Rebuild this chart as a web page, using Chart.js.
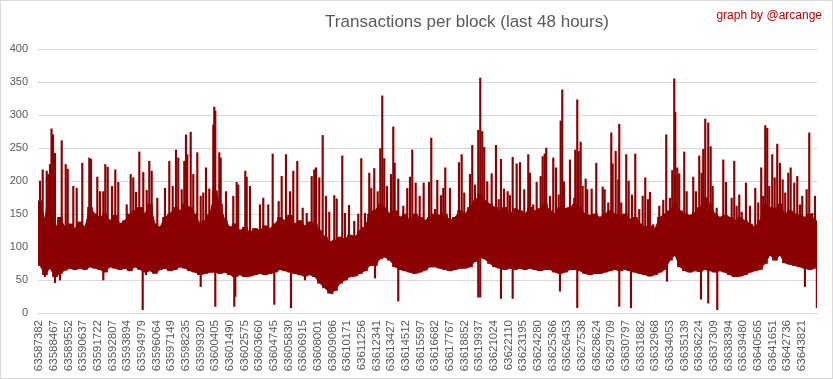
<!DOCTYPE html>
<html>
<head>
<meta charset="utf-8">
<script src="https://cdn.jsdelivr.net/npm/chart.js@4.4.1/dist/chart.umd.min.js"></script>
<style>
html,body{margin:0;padding:0;background:#fff;}
#wrap{position:relative;width:833px;height:379px;overflow:hidden;}
#frame{position:absolute;left:0;top:0;width:833px;height:379px;box-sizing:border-box;border:1px solid #d9d9d9;pointer-events:none;}
canvas{position:absolute;left:0;top:0;}
</style>
</head>
<body>
<div id="wrap"><canvas id="c" width="833" height="379"></canvas><div id="frame"></div></div>
<script>
const chartTitle = 'Transactions per block (last 48 hours)';
const creditText = 'graph by @arcange';

const tickLabels = [63587382,63588467,63589552,63590637,63591722,63592807,63593894,63594979,63596064,63597149,
63598235,63599320,63600405,63601490,63602575,63603660,63604745,63605830,63606915,63608001,
63609086,63610171,63611256,63612341,63613427,63614512,63615597,63616682,63617767,63618852,
63619937,63621024,63622110,63623195,63624280,63625366,63626453,63627538,63628624,63629709,
63630797,63631882,63632968,63634053,63635139,63636224,63637309,63638394,63639480,63640565,
63641651,63642736,63643821];

const yTicks = [0,50,100,150,200,250,300,350,400];

// Dense body of the series, downsampled: one sample every 370 blocks
const bodyStartBlock = 63587448;
const bodyStepBlocks = 370;
const bodyTop = [170,140,210,125,145,130,135,128,138,130,
160,150,145,150,140,148,135,140,150,155,
160,150,165,135,130,145,150,160,155,165,
160,150,135,140,150,185,165,140,130,135,
125,130,122,128,125,132,128,135,145,140,
148,135,140,132,138,135,125,115,108,110,
115,112,118,115,125,130,150,155,165,160,
150,155,145,150,140,150,145,140,145,150,
148,150,140,145,155,150,160,170,180,170,
165,160,155,160,150,158,155,150,160,155,
158,165,155,150,160,158,160,165,160,150,
148,150,145,150,155,150,148,150,142,145,
135,130,132,128,145,150,155,165,155,150,
148,152,160,175,165,150,145,148,145,140,
145,140,135,130,140,165,160,158,165,150,
155,150,148,145,150,140];
const bodyBottom = [72,58,68,55,60,65,68,66,68,66,
70,68,66,62,70,68,66,68,64,70,
66,62,64,60,66,68,64,66,70,68,
64,62,58,60,62,62,60,62,58,55,
58,55,56,58,60,58,60,62,66,64,
62,60,58,56,58,55,45,38,30,34,
45,50,55,56,60,64,72,72,82,85,
80,70,66,64,62,60,62,65,70,70,
68,66,64,66,68,68,70,78,85,82,
75,70,68,66,68,66,68,66,68,66,
64,66,66,62,60,62,66,66,64,60,
58,60,60,62,64,66,64,66,64,62,
60,58,56,58,62,66,80,88,70,64,
62,64,63,66,64,62,64,62,58,55,
56,58,62,64,66,75,88,80,88,76,
74,72,70,68,66,68];

// Individual peaks (block number, transactions)
const spikeBlocks = [
63587448,63587648,63587944,63588188,63588299,63588410,63588558,63589054,63589350,63589498,
63589912,63590164,63590578,63591096,63591222,63591688,63591888,63592132,63592280,63592458,
63592776,63593020,63593242,63593864,63594160,63594352,63594552,63594796,63595092,63595344,
63595536,63595714,63596128,63596698,63597016,63597268,63597512,63597682,63597934,63598126,
63598252,63598348,63598600,63598792,63599088,63599340,63599532,63599732,63599976,63600272,
63600346,63600420,63600716,63600820,63601212,63601752,63602004,63602122,63602640,63602744,
63602988,63603728,63603972,63604342,63604668,63605112,63605334,63605652,63605948,63606192,
63606488,63606888,63607184,63607554,63607746,
63607872,63608116,63608368,63608612,63608856,63609226,63609404,63609818,63610018,63610314,
63610706,63611002,63611224,63611498,63611816,63611964,63612186,63612438,63612630,63612778,
63612926,63613126,63613422,63613592,63613696,63613962,63614332,63614628,63614828,63614998,
63615250,63615546,63615842,63616234,63616404,63616678,63616848,63617122,63617292,
63617440,63617788,63618084,63618454,63618654,63618846,63619268,63619438,63619638,63619882,
63620030,63620178,63620326,63620548,63620874,63621192,63621392,63621562,63621784,63622058,
63622228,63622428,63622724,63622968,63623286,63623582,63623708,63623952,63624204,63624500,
63624648,63624796,63624914,63625188,63625432,63625632,63625832,63625980,63626098,63626224,
63626668,63626986,
63627060,63627208,63627312,63627460,63627608,63627830,63627948,63628274,63628614,63629088,
63629236,63629502,63629724,63629828,63630050,63630242,63630316,63630464,63630834,63631012,
63631256,63631500,63631796,63632048,63632240,63632440,63632588,63632832,63633276,63633572,
63633794,63634068,63634238,63634386,63634460,63634608,63634756,63635126,63635304,63635792,
63635992,63636236,63636414,63636532,
63636680,63636902,63637080,63637228,63637524,63638012,63638212,63638634,63638826,63639004,
63639196,63639374,63639692,63639988,63640380,63640602,63640824,63640972,63641120,63641268,
63641416,63641638,63641816,63642008,63642208,63642408,63642600,63642822,63643000,63643266,
63643488,63643688,63643858,63644184,63644376,63644598,63644798,63644924];
const spikeValues = [
200,217,215,225,279,270,242,261,225,218,
192,189,227,235,233,206,184,184,225,221,
192,217,198,164,210,205,183,244,213,186,
230,215,174,189,230,192,247,235,187,230,
270,240,274,210,243,177,182,220,188,285,
312,306,243,235,184,177,198,194,215,206,
192,164,174,164,241,169,207,240,184,215,
230,159,151,207,217,
220,205,269,177,153,178,173,238,151,163,
139,150,234,151,212,189,219,184,249,329,
234,192,210,282,227,203,162,189,206,247,
197,177,197,198,265,157,201,178,189,
220,189,139,228,240,182,210,254,194,277,
356,275,251,199,211,254,172,233,188,184,
178,236,226,228,187,240,212,164,198,207,
237,241,250,177,235,220,179,291,338,199,
232,174,
247,323,245,259,192,203,187,188,227,191,
187,167,273,226,245,202,286,167,240,200,
179,241,157,177,205,172,183,134,162,171,
270,174,216,355,304,220,211,244,184,206,
184,238,212,248,
294,288,252,192,159,232,198,174,230,162,
179,153,197,162,189,167,220,177,284,280,
192,240,205,256,227,202,182,212,220,197,
207,164,177,187,273,151,177,121];

// Individual drops (block number, transactions)
const dipBlocks = [63587818,63588558,63588928,63592132,63595048,63595292,63599340,63600420,63601826,63601900,
63604786,63606022,63607058,63609078,63612238,63613962,63619882,63620030,63621562,63622428,
63625928,63627208,63630316,63631182,63633846,63636362,63636902,63637568,63644058,63644940];
const dipValues = [55,46,50,50,5,58,40,10,10,25,
13,8,50,29,53,18,24,24,22,22,
33,8,10,8,48,21,15,5,40,8];

const seriesColor = '#8b0000';
const peakBase = 100;
const dipBase = 90;

const bodyX = bodyTop.map((v, i) => bodyStartBlock + i * bodyStepBlocks);
const topData = bodyTop.map((v, i) => ({x: bodyX[i], y: v}));
const bottomData = bodyBottom.map((v, i) => ({x: bodyX[i], y: v}));
const bodyBars = bodyTop.map((v, i) => ({x: bodyX[i], y: [bodyBottom[i], v]}));
const spikeData = spikeBlocks.map((b, i) => ({x: b, y: [peakBase, spikeValues[i]]}));
const dipData = dipBlocks.map((b, i) => ({x: b, y: [dipValues[i], dipBase]}));

const textPlugin = {
  id: 'texts',
  afterDraw(chart) {
    const ctx = chart.ctx;
    ctx.save();
    ctx.font = '17px "Liberation Sans", Arial, sans-serif';
    ctx.fillStyle = '#595959';
    ctx.textAlign = 'center';
    ctx.textBaseline = 'alphabetic';
    ctx.fillText(chartTitle, 467, 27);
    ctx.font = '12px "Liberation Sans", Arial, sans-serif';
    ctx.fillStyle = '#c00000';
    ctx.textAlign = 'right';
    ctx.fillText(creditText, 822, 19);
    ctx.restore();
  }
};

new Chart(document.getElementById('c'), {
  type: 'line',
  data: {
    datasets: [
      {type: 'line', data: topData, borderColor: seriesColor, backgroundColor: seriesColor,
       borderWidth: 1, pointRadius: 0, fill: '+1', tension: 0},
      {type: 'line', data: bottomData, borderColor: seriesColor, backgroundColor: seriesColor,
       borderWidth: 1, pointRadius: 0, fill: false, tension: 0},
      {type: 'bar', data: bodyBars, backgroundColor: seriesColor, borderWidth: 0,
       barThickness: 5, grouped: false},
      {type: 'bar', data: spikeData, backgroundColor: seriesColor, borderWidth: 0,
       barThickness: 1.5, grouped: false},
      {type: 'bar', data: dipData, backgroundColor: seriesColor, borderWidth: 0,
       barThickness: 1.5, grouped: false}
    ]
  },
  options: {
    responsive: false,
    animation: false,
    devicePixelRatio: 1,
    layout: {padding: {top: 49, right: 16, left: 0, bottom: 0}},
    plugins: {legend: {display: false}, tooltip: {enabled: false}, title: {display: false}},
    scales: {
      x: {
        type: 'linear',
        offset: false,
        min: 63587300,
        max: 63644950,
        afterBuildTicks: (axis) => { axis.ticks = tickLabels.map(v => ({value: v})); },
        afterFit: (scale) => { scale.height = 66; },
        grid: {display: false, drawTicks: false},
        border: {display: true, color: '#d9d9d9', width: 1},
        ticks: {
          autoSkip: false, minRotation: 90, maxRotation: 90, padding: 7,
          color: '#595959',
          font: {family: '"Liberation Sans", Arial, sans-serif', size: 11.5},
          callback: (v) => String(v)
        }
      },
      y: {
        min: 0, max: 400,
        afterBuildTicks: (axis) => { axis.ticks = yTicks.map(v => ({value: v})); },
        afterFit: (scale) => { scale.width = 38; },
        grid: {color: '#d9d9d9', drawTicks: false, lineWidth: 1},
        border: {display: false},
        ticks: {
          padding: 10, color: '#595959',
          font: {family: '"Liberation Sans", Arial, sans-serif', size: 11},
          callback: (v) => String(v)
        }
      }
    }
  },
  plugins: [textPlugin]
});
</script>
</body>
</html>
